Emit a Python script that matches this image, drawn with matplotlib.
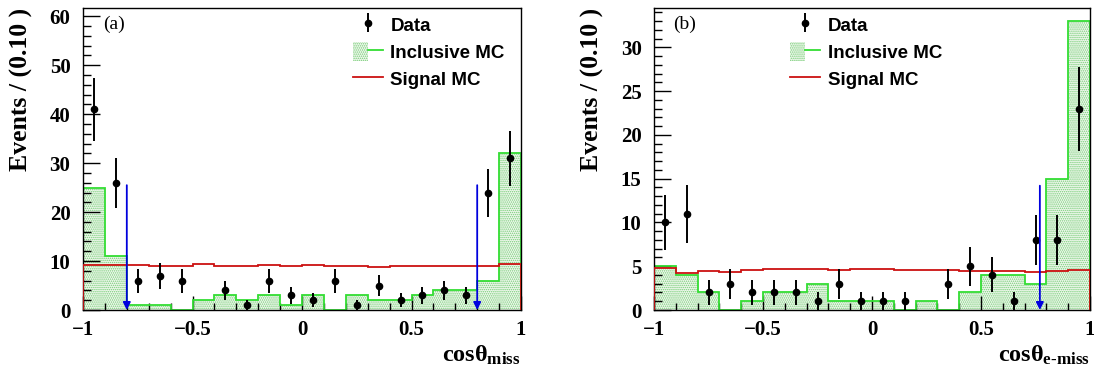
import numpy as np
import matplotlib
matplotlib.use('Agg')
import matplotlib.pyplot as plt
from matplotlib.patches import Patch
from matplotlib.lines import Line2D
from matplotlib.legend_handler import HandlerTuple
from matplotlib.ticker import MultipleLocator, FixedLocator, FixedFormatter

# ---------------- data ----------------
bin_edges = np.linspace(-1.0, 1.0, 21)

data_a = [41, 26, 6, 7, 6, 0, 4, 1, 6, 3, 2, 6, 1, 5, 2, 3, 4, 3, 24, 31]
incl_a = [25, 11, 1, 1, 0, 2, 3, 2, 3, 1, 3, 0, 3, 2, 2, 3, 4, 4, 6, 32]
sig_a = [9.2, 9.2, 9.1, 9.0, 9.0, 9.3, 9.0, 9.0, 9.1, 9.0,
         9.1, 8.9, 8.9, 8.8, 8.9, 9.0, 9.05, 9.05, 9.0, 9.3]
cuts_a = [-0.8, 0.8]
cut_top_a = 25.5

data_b = [10, 11, 2, 3, 2, 2, 2, 1, 3, 1, 1, 1, 0, 3, 5, 4, 1, 8, 8, 23]
incl_b = [5, 4, 2, 0, 1, 2, 2, 3, 1, 1, 1, 0, 1, 0, 2, 4, 4, 3, 15, 33]
sig_b = [4.8, 4.2, 4.4, 4.35, 4.6, 4.7, 4.7, 4.7, 4.6, 4.7,
         4.7, 4.6, 4.6, 4.6, 4.5, 4.4, 4.4, 4.3, 4.5, 4.6]
cuts_b = [0.77]
cut_top_b = 14.2

xtick_vals = [-1, -0.5, 0, 0.5, 1]
xtick_labels = ['\u22121', '\u22120.5', '0', '0.5', '1']

legend_labels = ['Data', 'Inclusive MC', 'Signal MC']
ylabel_text = 'Events / (0.10 )'
panel_tags = ['(a)', '(b)']
xlabels = [r'$\mathrm{cos}\theta_{\mathrm{miss}}$', r'$\mathrm{cos}\theta_{\mathrm{e\text{-}miss}}$']

# ---------------- style ----------------
plt.rcParams['mathtext.fontset'] = 'custom'
plt.rcParams['mathtext.rm'] = 'Liberation Serif:bold'
plt.rcParams['mathtext.it'] = 'Liberation Serif:bold'
plt.rcParams['mathtext.bf'] = 'Liberation Serif:bold'
plt.rcParams['hatch.linewidth'] = 0.7

GREEN = '#33dd33'
HATCH = '#77cc77'
FILL = '#eef8ec'
RED = '#cc1111'
BLUE = '#0000dd'
SERIF = 'Liberation Serif'
SANS = 'Liberation Sans'

W, H = 1094, 372
fig = plt.figure(figsize=(W / 100, H / 100), dpi=100)


def px_axes(left, top, right, bottom):
    return fig.add_axes([left / W, 1 - bottom / H, (right - left) / W, (bottom - top) / H])


def draw_panel(ax, data, incl, sig, cuts, cut_top, ymax, ymajor, yminor, tag, xlabel,
               ylab_x, leg_anchor):
    data = np.asarray(data, dtype=float)
    centers = 0.5 * (bin_edges[:-1] + bin_edges[1:])
    # inclusive MC: stippled fill + outline
    ax.stairs(incl, bin_edges, baseline=0, fill=True, facecolor=FILL,
              edgecolor=HATCH, hatch='........', linewidth=0, zorder=1)
    ax.stairs(incl, bin_edges, baseline=0, fill=False, color=GREEN, linewidth=1.3, zorder=2)
    # signal MC
    ax.stairs(sig, bin_edges, baseline=0, fill=False, color=RED, linewidth=1.3, zorder=3)
    # data
    m = data > 0
    ax.errorbar(centers[m], data[m], yerr=np.sqrt(data[m]), fmt='o', color='black',
                markersize=4.5, elinewidth=1.4, capsize=0, zorder=5)
    # cut arrows
    for c in cuts:
        ax.annotate('', xy=(c, 0), xytext=(c, cut_top),
                    arrowprops=dict(arrowstyle='-|>', color=BLUE, lw=1.3,
                                    mutation_scale=11, shrinkA=0, shrinkB=0),
                    zorder=6)
    ax.set_xlim(-1, 1)
    ax.set_ylim(0, ymax)
    ax.xaxis.set_major_locator(FixedLocator(xtick_vals))
    ax.xaxis.set_major_formatter(FixedFormatter(xtick_labels))
    ax.xaxis.set_minor_locator(MultipleLocator(0.1))
    ax.yaxis.set_major_locator(MultipleLocator(ymajor))
    ax.yaxis.set_minor_locator(MultipleLocator(yminor))
    ax.tick_params(axis='both', which='both', direction='in', top=False, right=False,
                   width=1.0, colors='black')
    ax.tick_params(axis='y', which='major', length=12, pad=9)
    ax.tick_params(axis='y', which='minor', length=6)
    ax.tick_params(axis='x', which='major', length=10, pad=7)
    ax.tick_params(axis='x', which='minor', length=5)
    for lab in ax.get_xticklabels() + ax.get_yticklabels():
        lab.set_fontfamily(SERIF)
        lab.set_fontweight('bold')
        lab.set_fontsize(15)
    for s in ax.spines.values():
        s.set_linewidth(1.0)
    ax.text(0.045, 0.945, tag, transform=ax.transAxes, fontsize=14, family=SERIF,
            ha='left', va='center')
    ax.set_ylabel(ylabel_text, fontsize=18.5, family=SERIF, fontweight='bold', loc='top')
    ax.yaxis.set_label_coords(ylab_x, 1.0)
    ax.text(1.0, -0.172, xlabel, transform=ax.transAxes, fontsize=17.5, ha='right',
            va='baseline')

    h_data = ax.containers[0]
    h_incl = (Patch(facecolor=FILL, edgecolor=HATCH, hatch='........', linewidth=0),
              Line2D([], [], color=GREEN, lw=1.3))
    h_sig = Line2D([], [], color=RED, lw=1.3)
    leg = ax.legend([h_data, h_incl, h_sig], legend_labels,
                    handler_map={tuple: HandlerTuple(ndivide=None, pad=0)},
                    loc='upper left', bbox_to_anchor=leg_anchor, frameon=False,
                    prop={'family': SANS, 'weight': 'bold', 'size': 13.5},
                    handlelength=1.6, handleheight=1.2, handletextpad=0.4,
                    labelspacing=0.38, borderpad=0, borderaxespad=0)
    return leg


ax_a = px_axes(83, 8, 521, 310)
draw_panel(ax_a, data_a, incl_a, sig_a, cuts_a, cut_top_a, 61.7, 10, 2, panel_tags[0],
           xlabels[0], -0.114, (0.616, 0.978))

ax_b = px_axes(654, 8, 1090, 310)
draw_panel(ax_b, data_b, incl_b, sig_b, cuts_b, cut_top_b, 34.5, 5, 1, panel_tags[1],
           xlabels[1], -0.114, (0.313, 0.978))

fig.savefig('out.png', dpi=100)
